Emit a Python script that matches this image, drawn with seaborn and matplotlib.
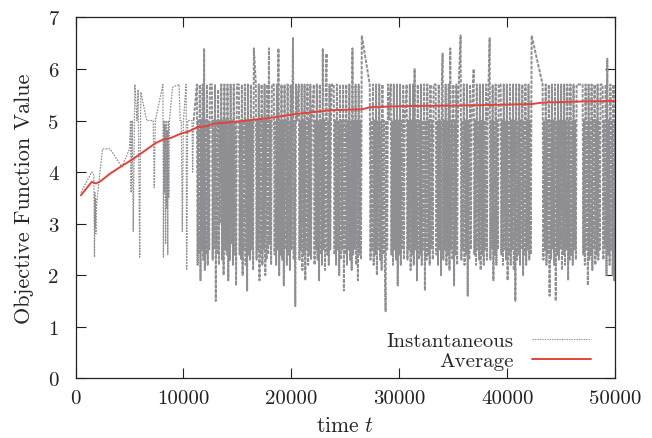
import numpy as np
import pandas as pd
import matplotlib
matplotlib.use("Agg")
import matplotlib.pyplot as plt
import seaborn as sns

# ---------------- data ----------------
# sparse early phase (time, value)
early_t = [500, 1500, 1700, 1760, 1800, 1830, 1860, 1890, 1920, 2500, 3200, 4300,
           5000, 5100, 5150, 5250, 5350, 5500, 5700, 5800, 5950, 6050, 6600, 7200,
           7300, 7400, 8100, 8150, 8200, 8250, 8300, 8350, 8400, 8450, 8500, 8550,
           8600, 8650, 8700, 9000, 9600, 9700, 9800, 9900, 10000, 10250, 10300,
           10400, 10800, 10850, 10950]
early_v = [3.6, 4.0, 3.95, 2.35, 3.6, 2.9, 3.5, 2.8, 3.3, 4.45, 4.45, 4.1,
           4.45, 5.0, 3.6, 5.0, 2.85, 5.7, 5.0, 5.6, 2.35, 5.55, 5.0, 5.0,
           3.7, 5.0, 5.7, 2.35, 5.0, 3.6, 4.9, 2.6, 5.0, 3.3, 4.8, 2.4,
           5.0, 3.5, 5.0, 5.65, 5.7, 5.0, 5.0, 2.85, 5.0, 5.7, 2.1,
           5.0, 5.0, 4.0, 5.0]

# dense phase: blocks of rapid switching (start time, end time, values)
block_start = [11250, 12640, 15140, 16715, 18380, 20690, 22085, 23935, 27270, 29210,
               30690, 33380, 35690, 36900, 38380, 39400, 43290, 46995, 48850]
block_end = [12455, 14955, 16530, 18195, 20510, 21900, 23750, 26530, 29030, 30510,
             33190, 35510, 36710, 38195, 39215, 42270, 46440, 48660, 50000]
block_vals = [
    [5.7, 2.2, 5.0, 2.4, 5.7, 1.9, 5.0, 2.5, 5.7, 2.3, 6.4, 2.1, 5.0, 2.4, 5.7, 2.2, 5.0, 2.5, 5.7],
    [5.7, 2.3, 5.0, 2.5, 5.7, 1.5, 5.0, 2.4, 5.6, 2.2, 5.0, 3.0, 5.7, 2.3, 5.0, 2.0, 5.7, 2.5,
     5.0, 2.4, 5.7, 1.9, 5.0, 2.3, 5.7, 2.6, 5.0, 2.2, 5.7, 2.4, 5.0, 1.8, 5.7],
    [5.7, 2.4, 5.0, 2.3, 5.7, 2.0, 5.0, 2.5, 5.7, 2.2, 5.0, 1.7, 5.7, 2.4, 5.0, 2.3, 5.7, 2.5,
     5.0, 2.1, 6.4],
    [5.7, 2.3, 5.0, 2.5, 5.7, 1.9, 5.0, 2.4, 5.7, 2.2, 5.0, 2.5, 5.7, 2.0, 5.0, 2.3, 5.7, 2.4,
     6.4, 2.6, 5.0, 2.2, 5.7],
    [5.7, 2.4, 5.0, 2.2, 5.7, 2.5, 6.4, 2.0, 5.0, 2.4, 5.7, 2.3, 5.0, 1.8, 5.7, 2.5, 5.0, 2.2,
     5.7, 2.4, 5.0, 2.1, 5.7, 2.5, 5.0, 6.6, 2.3, 5.0, 1.4, 5.7, 5.0],
    [5.7, 2.3, 5.0, 2.5, 5.7, 2.1, 5.0, 2.4, 5.7, 1.9, 5.0, 2.5, 5.7, 2.2, 5.0, 2.4, 5.7, 2.3, 5.0],
    [5.7, 2.2, 5.0, 2.5, 5.7, 2.3, 5.0, 1.9, 5.7, 2.4, 5.0, 2.2, 6.4, 2.5, 5.0, 2.1, 5.7, 6.3,
     2.4, 5.0, 2.2, 5.7, 2.5, 5.0, 5.7],
    [5.7, 2.4, 5.0, 2.2, 5.7, 2.5, 5.0, 2.0, 5.7, 2.3, 5.0, 2.5, 5.7, 1.7, 5.0, 2.4, 5.7, 2.2,
     5.0, 2.5, 5.7, 2.3, 5.0, 2.1, 6.4, 2.4, 5.0, 2.5, 5.7, 2.2, 5.0, 1.9, 5.7, 2.4, 5.0, 2.3, 6.65],
    [5.7, 2.3, 5.0, 2.5, 5.7, 2.2, 5.0, 2.4, 5.7, 2.0, 5.0, 2.5, 5.7, 2.3, 5.0, 2.1, 5.7, 2.4,
     5.0, 2.2, 1.3, 5.0, 2.5, 5.7, 5.0],
    [5.7, 2.4, 5.0, 2.2, 5.7, 2.5, 5.0, 2.3, 5.7, 1.8, 5.0, 2.4, 5.7, 2.2, 5.0, 2.5, 5.7, 2.3, 5.0],
    [5.7, 2.3, 5.0, 2.5, 5.7, 2.1, 5.0, 2.4, 5.7, 2.2, 6.0, 2.5, 5.0, 1.9, 5.7, 2.3, 5.0, 2.4,
     5.7, 2.2, 5.0, 2.5, 5.7, 1.7, 5.0, 2.3, 5.7, 2.4, 5.0, 2.2, 5.7, 2.5, 5.0, 2.3, 5.7],
    [5.7, 2.4, 5.0, 2.2, 5.7, 2.5, 5.0, 2.0, 5.7, 6.3, 2.3, 5.0, 2.5, 5.7, 2.2, 5.0, 2.4, 5.7,
     2.1, 6.4, 2.5, 5.0, 2.3, 5.7, 1.8, 5.0, 2.4, 5.7, 2.2, 5.0, 5.7],
    [6.65, 2.3, 5.0, 2.5, 5.7, 2.2, 5.0, 2.4, 5.7, 1.6, 5.0, 2.3, 5.7, 2.5, 5.0],
    [6.0, 2.4, 5.0, 2.2, 5.7, 2.5, 5.0, 2.3, 5.7, 2.1, 5.0, 2.4, 5.7, 2.2, 5.0, 2.5, 5.7, 2.3, 5.0],
    [6.6, 2.3, 5.0, 2.5, 5.7, 1.9, 5.0, 2.4, 5.7, 2.2, 5.0, 2.5, 5.7],
    [5.7, 2.4, 5.0, 2.2, 5.7, 2.5, 5.0, 2.3, 5.7, 1.9, 5.0, 2.4, 5.7, 2.2, 5.0, 2.5, 5.7, 2.1,
     5.0, 1.5, 5.7, 2.3, 5.0, 2.4, 5.7, 2.2, 5.0, 2.5, 5.7, 2.0, 5.0, 2.4, 5.7, 2.2, 5.0, 2.5,
     5.7, 2.3, 5.0, 2.4, 6.65],
    [5.7, 2.3, 5.0, 2.5, 5.7, 2.2, 5.0, 2.4, 5.7, 1.6, 5.0, 2.3, 5.7, 2.5, 5.0, 2.2, 5.7, 1.5,
     5.0, 2.4, 5.7, 2.3, 5.0, 2.5, 5.7, 2.1, 5.0, 2.4, 5.7, 2.2, 5.0, 2.5, 5.7, 1.9, 5.0, 2.3,
     5.7, 2.4, 5.0, 2.2, 5.7, 2.5, 5.0, 2.3, 5.7],
    [5.7, 2.4, 5.0, 2.2, 5.7, 2.5, 5.0, 1.8, 5.7, 2.3, 5.0, 2.4, 5.7, 2.1, 5.0, 2.5, 5.7, 2.2,
     5.0, 2.4, 5.7, 2.3, 5.0, 2.5, 5.7],
    [5.7, 2.3, 5.0, 2.5, 5.7, 2.0, 6.2, 2.4, 5.0, 2.2, 5.7, 2.5, 5.0, 2.0, 5.7, 1.9, 5.0],
]

# running average
avg_t = [500, 1500, 1900, 2300, 3200, 4300, 5300, 6400, 7400, 8100, 8800, 9800, 10400,
         11300, 12200, 12800, 15000, 18000, 20500, 23700, 26600, 27300, 30500, 35000,
         38000, 42300, 43300, 47000, 50000]
avg_v = [3.55, 3.81, 3.78, 3.82, 3.97, 4.12, 4.25, 4.41, 4.56, 4.63, 4.66, 4.75, 4.78,
         4.87, 4.89, 4.94, 4.98, 5.05, 5.13, 5.20, 5.22, 5.26, 5.28, 5.29, 5.30, 5.32,
         5.35, 5.37, 5.38]

x_ticks = [0, 10000, 20000, 30000, 40000, 50000]
y_ticks = [0, 1, 2, 3, 4, 5, 6, 7]

# ---------------- build frames ----------------
dense_t = [early_t[-1]]
dense_v = [early_v[-1]]
for s, e, vals in zip(block_start, block_end, block_vals):
    dense_t.extend(np.linspace(s, e, len(vals)).tolist())
    dense_v.extend(vals)
early = pd.DataFrame({"t": early_t, "v": early_v})
dense = pd.DataFrame({"t": dense_t, "v": dense_v})
avg = pd.DataFrame({"t": avg_t, "v": avg_v})

# ---------------- style ----------------
sns.set_style("ticks")
plt.rcParams["font.family"] = ["cmr10", "DejaVu Serif"]
plt.rcParams["mathtext.fontset"] = "cm"
plt.rcParams["axes.formatter.use_mathtext"] = True
plt.rcParams["axes.unicode_minus"] = False

fig = plt.figure(figsize=(6.52, 4.39), dpi=100)
ax = fig.add_axes([0.1158, 0.136, 0.8275, 0.822])

gray = "#8e8e93"
red = "#e4433a"

# instantaneous value: sparse early part (thin dotted) + dense switching part
sns.lineplot(data=early, x="t", y="v", ax=ax, estimator=None, sort=False,
             color=gray, linewidth=0.9, linestyle=(0, (1.3, 1.0)),
             label="Instantaneous", zorder=2)
sns.lineplot(data=dense, x="t", y="v", ax=ax, estimator=None, sort=False,
             color=gray, linewidth=1.4, linestyle=(0, (1.8, 0.7)),
             legend=False, zorder=2)
sns.lineplot(data=avg, x="t", y="v", ax=ax, estimator=None, sort=False,
             color=red, linewidth=1.4, label="Average", zorder=3)

ax.set_xlim(0, 50000)
ax.set_ylim(0, 7)
ax.set_xticks(x_ticks)
ax.set_yticks(y_ticks)
ax.set_xticklabels([str(v) for v in x_ticks])
ax.set_yticklabels([str(v) for v in y_ticks])
ax.tick_params(direction="in", top=True, right=True, length=7, width=0.8,
               labelsize=15, colors="#222222")
ax.tick_params(axis="x", pad=8)
ax.tick_params(axis="y", pad=12)
for sp in ax.spines.values():
    sp.set_visible(True)
    sp.set_linewidth(0.9)
    sp.set_color("#222222")

ax.set_xlabel("time $t$", fontsize=15.5, labelpad=6)
ax.set_ylabel("Objective Function Value", fontsize=16, labelpad=10)

leg = ax.legend(loc="lower right", bbox_to_anchor=(0.97, 0.0), frameon=False,
                markerfirst=False, fontsize=15, handlelength=2.8, handletextpad=0.9,
                labelspacing=0.05, borderaxespad=0)
leg.get_lines()[0].set_linewidth(0.8)
leg.get_lines()[0].set_linestyle((0, (1.2, 1.0)))

fig.savefig("out.png", dpi=100)
